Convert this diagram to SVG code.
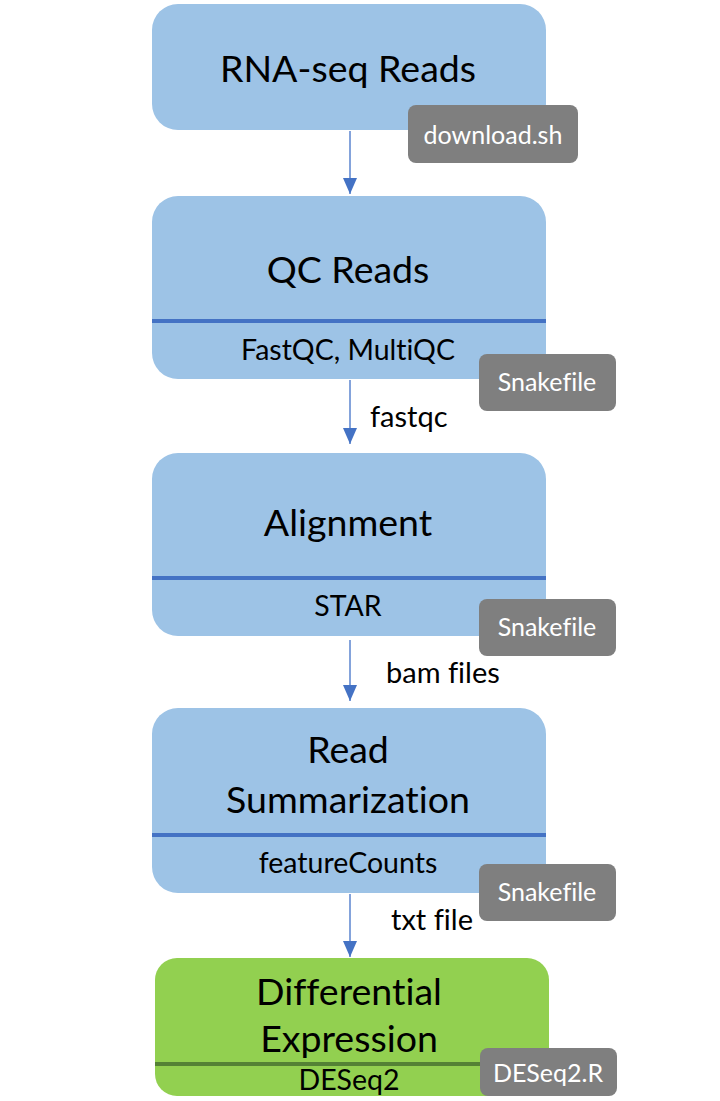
<svg xmlns="http://www.w3.org/2000/svg" width="720" height="1101" viewBox="0 0 720 1101">
<defs>
<style>
text{font-variant-ligatures:none;font-feature-settings:"liga" 0;}
.box{fill:#9DC3E6;}
.green{fill:#92D050;}
.div{stroke:#4472C4;stroke-width:4;}
.divg{stroke:#548235;stroke-width:4;}
.title{font-family:Lato,"Open Sans",sans-serif;font-size:37.5px;fill:#000;text-anchor:middle;}
.sub{font-family:Lato,"Open Sans",sans-serif;font-size:28.5px;fill:#000;text-anchor:middle;}
.badge{fill:#7F7F7F;}
.btxt{font-family:Lato,"Open Sans",sans-serif;font-size:25px;fill:#fff;text-anchor:middle;}
.lbl{font-family:Lato,"Open Sans",sans-serif;font-size:29px;fill:#000;}
.conn{stroke:#5B85CF;stroke-width:1.5;fill:none;}
</style>
<marker id="ah" markerWidth="16" markerHeight="14" refX="16" refY="7" orient="auto" markerUnits="userSpaceOnUse">
<path d="M0,0 L16,7 L0,14 Z" fill="#4472C4"/>
</marker>
</defs>
<rect width="720" height="1101" fill="#fff"/>
<g id="connectors">
<line class="conn" x1="350" y1="131" x2="350" y2="194" marker-end="url(#ah)"/>
<line class="conn" x1="350" y1="380" x2="350" y2="444" marker-end="url(#ah)"/>
<line class="conn" x1="350" y1="640" x2="350" y2="701" marker-end="url(#ah)"/>
<line class="conn" x1="350" y1="894" x2="350" y2="957" marker-end="url(#ah)"/>
<text class="lbl" x="370" y="427">fastqc</text>
<text class="lbl" x="386" y="683">bam files</text>
<text class="lbl" x="391" y="930">txt file</text>
</g>
<g id="rnaseq">
<rect class="box" x="152" y="4" width="394" height="126" rx="26"/>
<text class="title" x="348" y="82">RNA-seq Reads</text>
</g>
<g id="download">
<rect class="badge" x="408" y="105" width="170" height="58" rx="8"/>
<text class="btxt" x="493" y="144">download.sh</text>
</g>
<g id="qc">
<rect class="box" x="152" y="196" width="394" height="183" rx="26"/>
<line class="div" x1="152" y1="321" x2="546" y2="321"/>
<text class="title" x="348" y="283">QC Reads</text>
<text class="sub" x="348" y="360">FastQC, MultiQC</text>
</g>
<g id="snake1">
<rect class="badge" x="479" y="354" width="137" height="57" rx="8"/>
<text class="btxt" x="547" y="391">Snakefile</text>
</g>
<g id="align">
<rect class="box" x="152" y="453" width="394" height="183" rx="26"/>
<line class="div" x1="152" y1="578" x2="546" y2="578"/>
<text class="title" x="348" y="536">Alignment</text>
<text class="sub" x="348" y="616">STAR</text>
</g>
<g id="snake2">
<rect class="badge" x="479" y="599" width="137" height="57" rx="8"/>
<text class="btxt" x="547" y="636">Snakefile</text>
</g>
<g id="summ">
<rect class="box" x="152" y="708" width="394" height="185" rx="26"/>
<line class="div" x1="152" y1="835" x2="546" y2="835"/>
<text class="title" x="348" y="763">Read</text>
<text class="title" x="348" y="813">Summarization</text>
<text class="sub" x="348" y="873">featureCounts</text>
</g>
<g id="snake3">
<rect class="badge" x="479" y="864" width="137" height="57" rx="8"/>
<text class="btxt" x="547" y="901">Snakefile</text>
</g>
<g id="de">
<rect class="green" x="155" y="958" width="394" height="138" rx="22"/>
<line class="divg" x1="155" y1="1064" x2="549" y2="1064"/>
<text class="title" x="349" y="1005">Differential</text>
<text class="title" x="349" y="1052">Expression</text>
<text class="sub" x="349" y="1090">DESeq2</text>
</g>
<g id="deseqr">
<rect class="badge" x="480" y="1048" width="137" height="48" rx="8"/>
<text class="btxt" x="548" y="1082">DESeq2.R</text>
</g>
</svg>
